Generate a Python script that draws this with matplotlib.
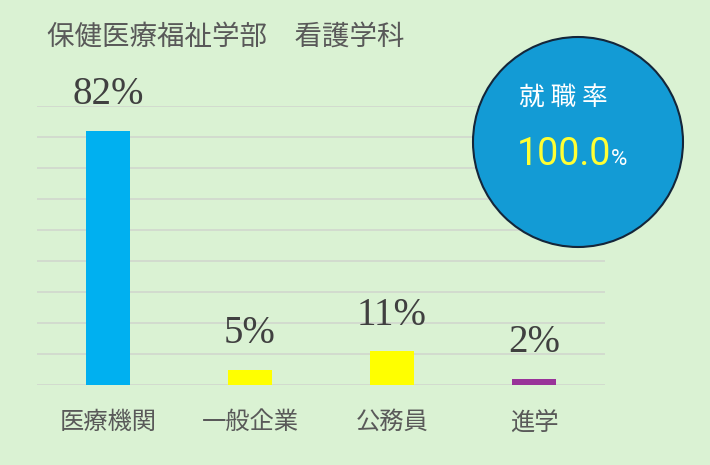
import matplotlib.pyplot as plt
from matplotlib.patches import Ellipse

plt.rcParams['font.family'] = ['Noto Sans CJK JP', 'DejaVu Sans']

title = '保健医療福祉学部\u3000看護学科'
categories = ['医療機関', '一般企業', '公務員', '進学']
shares = [82, 5, 11, 2]
employment_rate = 100.0

bar_colors = ['#00B0F0', '#FFFF00', '#FFFF00', '#993399']
bg = '#DAF2D3'

W, H = 710, 465
fig = plt.figure(figsize=(W / 100, H / 100), dpi=100, facecolor=bg)

def px(x, y):  # pixel (from top-left) -> figure fraction
    return x / W, 1 - y / H

# plot area: x 37..605, y 106..385
ax = fig.add_axes([37 / W, 1 - 385 / H, (605 - 37) / W, (385 - 106) / H])
ax.set_facecolor(bg)
x = range(len(categories))
bars = ax.bar(x, shares, width=0.31, color=bar_colors, zorder=3)
ax.set_xlim(-0.5, len(categories) - 0.5)
ax.set_ylim(0, 90)
ax.set_yticks(range(0, 91, 10))
ax.yaxis.grid(True, color='#D2D9CE', linewidth=1.3, zorder=0)
ax.tick_params(left=False, bottom=False, labelleft=False)
for s in ax.spines.values():
    s.set_visible(False)
ax.set_xticks(list(x))
ax.set_xticklabels(categories, fontsize=17.5, color='#595959')
ax.tick_params(axis='x', pad=14)

for b, v in zip(bars, shares):
    ax.annotate(f'{v}%', (b.get_x() + b.get_width() / 2, v),
                xytext=(0, 19), textcoords='offset points',
                ha='center', va='baseline', fontsize=28,
                family='Liberation Serif', color='#404040', clip_on=False)

# title
fig.text(*px(47, 37), title, fontsize=19.8, color='#595959', va='center', ha='left')

# circle
cx, cy = px(578, 142)
circle = Ellipse((cx, cy), 210 / W, 210 / H, transform=fig.transFigure,
                 facecolor='#139BD5', edgecolor='#14263A', linewidth=1.5, zorder=5)
fig.add_artist(circle)

fig.text(*px(519, 98), '就 職 率', fontsize=18.5, color='white', va='center', ha='left', zorder=6)
fig.text(*px(517, 165), f'{employment_rate:.1f}', fontsize=27, family='Roboto',
         color='#FFFF33', va='baseline', ha='left', zorder=6)
fig.text(*px(611, 165), '%', fontsize=16, family='Roboto', color='white',
         va='baseline', ha='left', zorder=6)

fig.savefig('out.png', dpi=100, facecolor=bg)
